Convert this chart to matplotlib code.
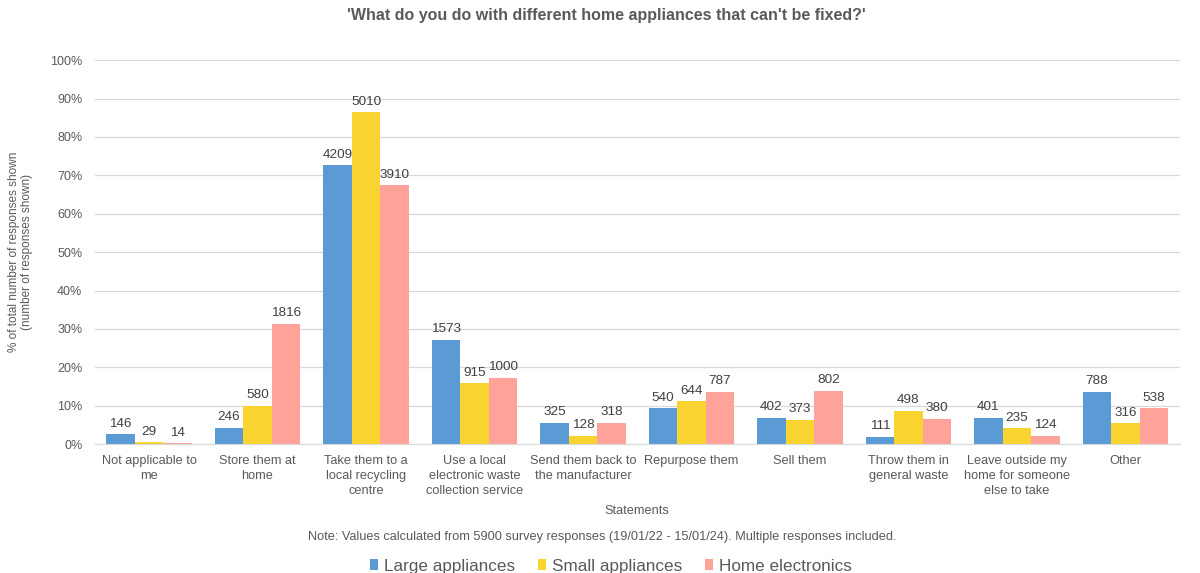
import matplotlib.pyplot as plt
import numpy as np

plt.rcParams["font.family"] = ["Liberation Sans", "DejaVu Sans"]

categories = [
    "Not applicable to\nme",
    "Store them at\nhome",
    "Take them to a\nlocal recycling\ncentre",
    "Use a local\nelectronic waste\ncollection service",
    "Send them back to\nthe manufacturer",
    "Repurpose them",
    "Sell them",
    "Throw them in\ngeneral waste",
    "Leave outside my\nhome for someone\nelse to take",
    "Other",
]
series = ["Large appliances", "Small appliances", "Home electronics"]

# percentages
large_pct = [2.5, 4.2, 72.6, 27.1, 5.6, 9.3, 6.9, 1.9, 6.9, 13.6]
small_pct = [0.5, 10.0, 86.4, 15.8, 2.2, 11.1, 6.4, 8.6, 4.1, 5.4]
home_pct = [0.25, 31.3, 67.4, 17.2, 5.5, 13.6, 13.8, 6.6, 2.1, 9.3]

# response counts shown as labels
large_n = [146, 246, 4209, 1573, 325, 540, 402, 111, 401, 788]
small_n = [29, 580, 5010, 915, 128, 644, 373, 498, 235, 316]
home_n = [14, 1816, 3910, 1000, 318, 787, 802, 380, 124, 538]

colors = ["#5B9BD5", "#F9D32F", "#FFA29A"]
grey = "#595959"

fig = plt.figure(figsize=(12, 5.73), dpi=100)
ax = fig.add_axes([0.079, 0.225, 0.904, 0.67])

x = np.arange(len(categories))
width = 0.262
for i, (pct, n) in enumerate(zip([large_pct, small_pct, home_pct], [large_n, small_n, home_n])):
    offset = (i - 1) * width
    bars = ax.bar(x + offset, pct, width, color=colors[i], label=series[i], zorder=2)
    for b, lab in zip(bars, n):
        ax.text(b.get_x() + b.get_width() / 2, b.get_height() + 1.2, str(lab),
                ha="center", va="bottom", fontsize=9.7, color="#404040")

ax.set_ylim(0, 100)
ax.set_xlim(-0.5, len(categories) - 0.5)
ax.set_yticks(np.arange(0, 101, 10))
ax.set_yticklabels([f"{v}%" for v in range(0, 101, 10)], fontsize=9, color=grey)
ax.set_xticks(x)
ax.set_xticklabels(categories, fontsize=9.2, color=grey, linespacing=1.3)
ax.tick_params(axis="y", length=0, pad=9)
ax.tick_params(axis="x", length=0, pad=8)
ax.grid(axis="y", color="#D9D9D9", linewidth=0.9, zorder=0)
for s in ["top", "right", "left"]:
    ax.spines[s].set_visible(False)
ax.spines["bottom"].set_color("#D9D9D9")

ax.set_ylabel("% of total number of responses shown\n(number of responses shown)",
              fontsize=8.5, color=grey, labelpad=12)
ax.set_xlabel("Statements", fontsize=9.2, color=grey, labelpad=6)

fig.text(0.505, 0.973, "'What do you do with different home appliances that can't be fixed?'",
         ha="center", va="center", fontsize=11.5, fontweight="bold", color=grey)
fig.text(0.502, 0.063, "Note: Values calculated from 5900 survey responses (19/01/22 - 15/01/24). Multiple responses included.",
         ha="center", va="center", fontsize=9.2, color=grey)

fig.legend(loc="center", bbox_to_anchor=(0.509, 0.012), ncol=3, frameon=False,
           fontsize=12.3, handlelength=0.5, handleheight=0.55, handletextpad=0.35,
           columnspacing=1.3, labelcolor=grey)

fig.savefig("out.png", dpi=100)
